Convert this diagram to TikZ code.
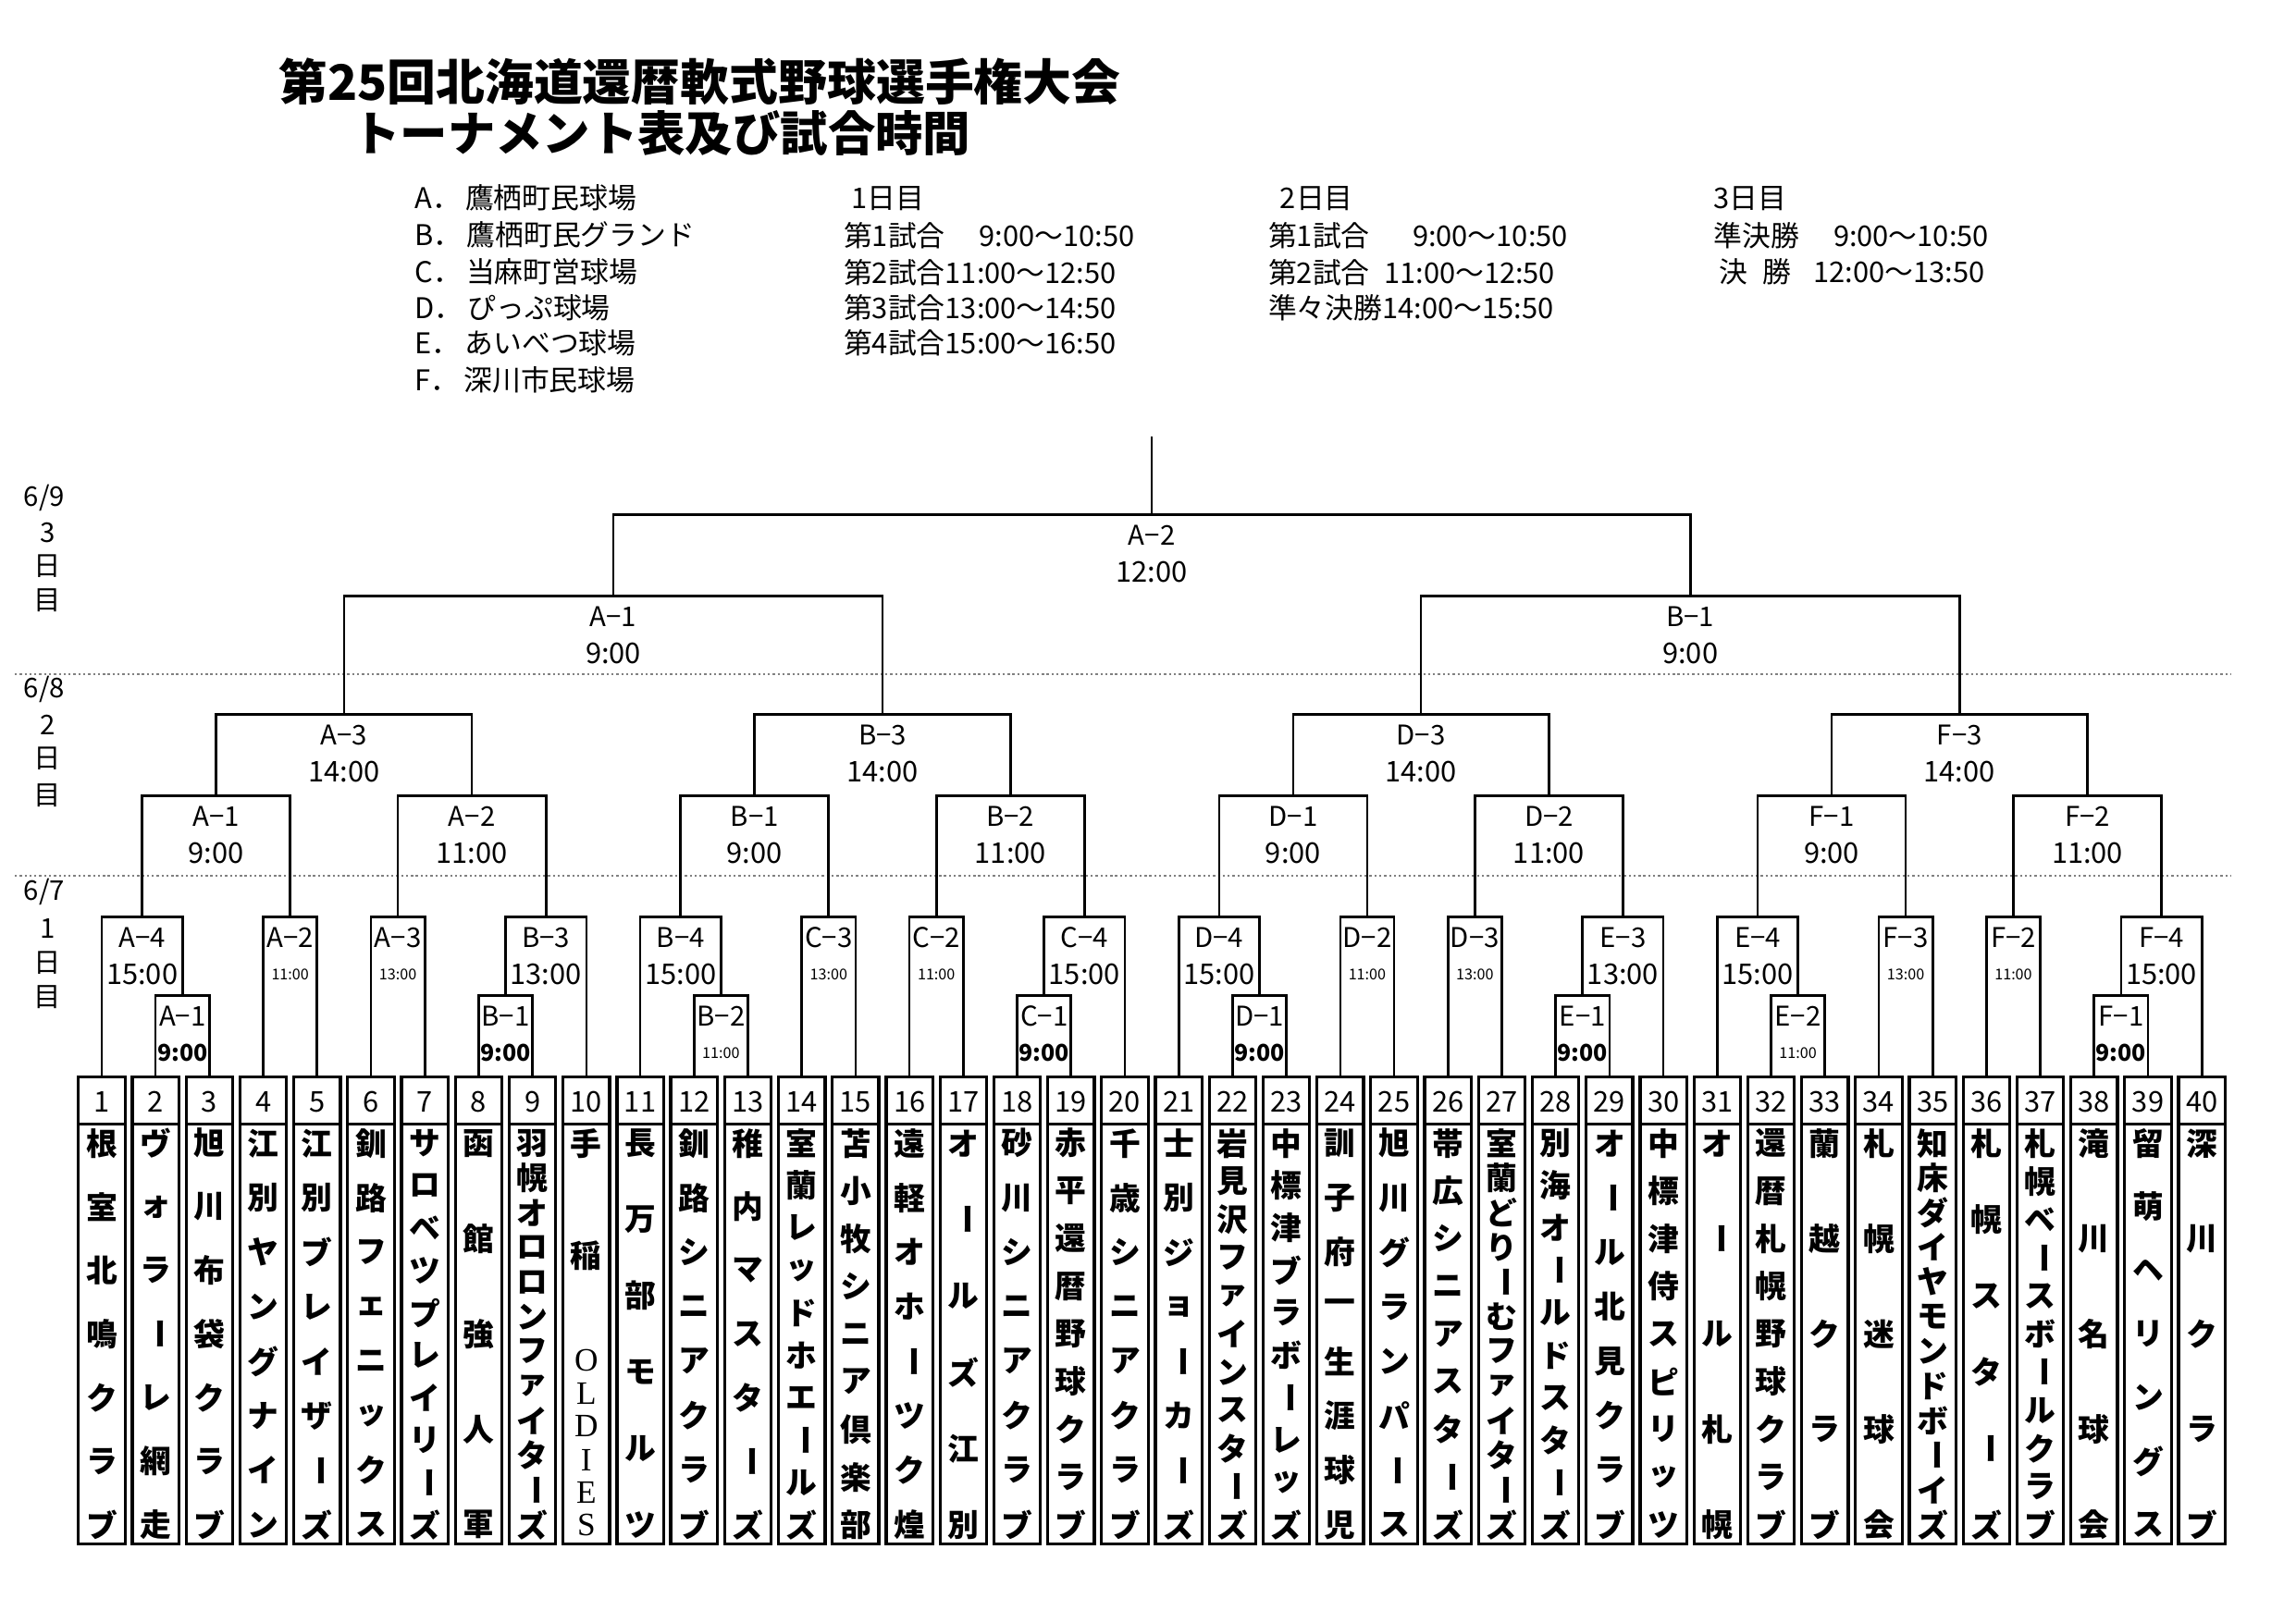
\documentclass[tikz,border=0pt]{standalone}
\usepackage{fontspec}
\setmainfont{Noto Sans CJK JP}
\newfontfamily\serifw{Liberation Serif}
\usetikzlibrary{calc}
\newcommand\chou{\rotatebox[origin=c]{-90}{ー}}
\tikzset{
 br/.style={line width=0.9pt},
 bx/.style={line width=1.1pt},
 lab/.style={font=\fontsize{10}{11}\selectfont, inner sep=0pt},
 tl/.style={font=\fontsize{10.5}{11}\selectfont, inner sep=0pt},
 tb/.style={font=\fontsize{8.5}{9}\selectfont\bfseries, inner sep=0pt},
 ts/.style={font=\fontsize{5.5}{6}\selectfont, inner sep=0pt},
 num/.style={font=\fontsize{10.5}{11}\selectfont, inner sep=0pt},
 nm/.style={font=\fontsize{11.5}{12}\selectfont\bfseries, inner sep=0pt},
 hd/.style={font=\fontsize{10.5}{12}\selectfont, anchor=west, inner sep=0pt},
 dl/.style={font=\fontsize{10}{11}\selectfont, inner sep=0pt},
 sep/.style={gray, densely dotted, line width=0.8pt},
}
\newcommand\mtch[7]{%
 \draw[br] (#2) -- (#2 |- 0,#4) coordinate (#1L) -- (#3 |- 0,#4) coordinate (#1R) -- (#3);
 \coordinate (#1) at ($(#1L)!0.5!(#1R)$);
 \node[lab] at ($(#1)+(0,14)$) {#5};
 \node[#7] at ($(#1)+(0,39)$) {#6};}
\newcommand\team[3]{%
 \pgfmathsetmacro\cxx{68.75+(#1-1)*36.4}
 \draw[bx] (\cxx-15.75,728) rectangle (\cxx+15.75,1044);
 \draw[bx] (\cxx-15.75,760) -- (\cxx+15.75,760);
 \node[num] at (\cxx,745) {#1};
 \coordinate (t#1) at (\cxx,728);
 \foreach \ch [count=\k] in {#3} {\pgfmathsetmacro\yy{773+(\k-1)*258/(#2-1)} \node[nm] at (\cxx,\yy) {\ch};}
}
\begin{document}
\begin{tikzpicture}[x=0.19137mm,y=-0.19137mm]
\useasboundingbox (0,0) rectangle (1552,1097);
% header
\node[font=\fontsize{18}{20}\selectfont\bfseries, anchor=west, inner sep=0pt] (title1) at (188,55) {第25回北海道還暦軟式野球選手権大会};
\node[font=\fontsize{17.5}{20}\selectfont\bfseries, anchor=west, inner sep=0pt] (title2) at (238,90) {トーナメント表及び試合時間};
\node[hd] (v1) at (280,134) {A．\,鷹栖町民球場};
\node[hd] (v2) at (280,159) {B．\,鷹栖町民グランド};
\node[hd] (v3) at (280,184) {C．\,当麻町営球場};
\node[hd] (v4) at (280,208) {D．\,ぴっぷ球場};
\node[hd] (v5) at (280,232) {E．\,あいべつ球場};
\node[hd] (v6) at (280,257) {F．\,深川市民球場};
\node[hd] (d1) at (575,134) {1日目};
\node[hd] (d1a) at (570,159) {第1試合\hspace{1.2em}9:00～10:50};
\node[hd] (d1b) at (570,184) {第2試合11:00～12:50};
\node[hd] (d1c) at (570,208) {第3試合13:00～14:50};
\node[hd] (d1d) at (570,232) {第4試合15:00～16:50};
\node[hd] (d2) at (865,134) {2日目};
\node[hd] (d2a) at (857,159) {第1試合\hspace{1.5em}9:00～10:50};
\node[hd] (d2b) at (857,184) {第2試合\hspace{0.5em}11:00～12:50};
\node[hd] (d2c) at (857,208) {準々決勝14:00～15:50};
\node[hd] (d3) at (1158,134) {3日目};
\node[hd] (d3a) at (1158,159) {準決勝\hspace{1.2em}9:00～10:50};
\node[hd] (d3b) at (1162,184) {決\hspace{0.5em}勝\hspace{0.8em}12:00～13:50};
% day labels
\node[dl] (day3) at (30,337) {6/9};
\node[dl] at (32,360) {3};
\node[dl] at (32,383) {日};
\node[dl] at (32,406) {目};
\node[dl] (day2) at (30,466) {6/8};
\node[dl] at (32,490) {2};
\node[dl] at (32,513) {日};
\node[dl] at (32,538) {目};
\node[dl] (day1) at (30,603) {6/7};
\node[dl] at (32,628) {1};
\node[dl] at (32,651) {日};
\node[dl] at (32,674) {目};
\draw[sep] (10,456) -- (1508,456);
\draw[sep] (10,592) -- (1508,592);
% teams
\team{1}{7}{根,室,北,鳴,ク,ラ,ブ}
\team{2}{7}{ヴ,ォ,ラ,\chou,レ,網,走}
\team{3}{7}{旭,川,布,袋,ク,ラ,ブ}
\team{4}{8}{江,別,ヤ,ン,グ,ナ,イ,ン}
\team{5}{8}{江,別,ブ,レ,イ,ザ,\chou,ズ}
\team{6}{8}{釧,路,フ,ェ,ニ,ッ,ク,ス}
\team{7}{10}{サ,ロ,ベ,ツ,プ,レ,イ,リ,\chou,ズ}
\team{8}{5}{函,館,強,人,軍}
\team{9}{12}{羽,幌,オ,ロ,ロ,ン,フ,ァ,イ,タ,\chou,ズ}
\team{10}{2}{手}
\node[nm] at (396.35,849) {稲};
\foreach \ch/\yy in {O/920,L/942,D/964,I/987,E/1009,S/1031}
  \node[font=\fontsize{12}{12}\selectfont\serifw, inner sep=0pt] at (396.35,\yy) {\ch};
\team{11}{6}{長,万,部,モ,ル,ツ}
\team{12}{8}{釧,路,シ,ニ,ア,ク,ラ,ブ}
\team{13}{7}{稚,内,マ,ス,タ,\chou,ズ}
\team{14}{10}{室,蘭,レ,ッ,ド,ホ,エ,\chou,ル,ズ}
\team{15}{9}{苫,小,牧,シ,ニ,ア,倶,楽,部}
\team{16}{8}{遠,軽,オ,ホ,\chou,ツ,ク,煌}
\team{17}{6}{オ,\chou,ル,ズ,江,別}
\team{18}{8}{砂,川,シ,ニ,ア,ク,ラ,ブ}
\team{19}{9}{赤,平,還,暦,野,球,ク,ラ,ブ}
\team{20}{8}{千,歳,シ,ニ,ア,ク,ラ,ブ}
\team{21}{8}{士,別,ジ,ョ,\chou,カ,\chou,ズ}
\team{22}{11}{岩,見,沢,フ,ァ,イ,ン,ス,タ,\chou,ズ}
\team{23}{10}{中,標,津,ブ,ラ,ボ,\chou,レ,ッ,ズ}
\team{24}{8}{訓,子,府,一,生,涯,球,児}
\team{25}{8}{旭,川,グ,ラ,ン,パ,\chou,ス}
\team{26}{9}{帯,広,シ,ニ,ア,ス,タ,\chou,ズ}
\team{27}{12}{室,蘭,ど,り,\chou,む,フ,ァ,イ,タ,\chou,ズ}
\team{28}{10}{別,海,オ,\chou,ル,ド,ス,タ,\chou,ズ}
\team{29}{8}{オ,\chou,ル,北,見,ク,ラ,ブ}
\team{30}{9}{中,標,津,侍,ス,ピ,リ,ッ,ツ}
\team{31}{5}{オ,\chou,ル,札,幌}
\team{32}{9}{還,暦,札,幌,野,球,ク,ラ,ブ}
\team{33}{5}{蘭,越,ク,ラ,ブ}
\team{34}{5}{札,幌,迷,球,会}
\team{35}{12}{知,床,ダ,イ,ヤ,モ,ン,ド,ボ,\chou,イ,ズ}
\team{36}{6}{札,幌,ス,タ,\chou,ズ}
\team{37}{11}{札,幌,ベ,\chou,ス,ボ,\chou,ル,ク,ラ,ブ}
\team{38}{5}{滝,川,名,球,会}
\team{39}{7}{留,萌,ヘ,リ,ン,グ,ス}
\team{40}{5}{深,川,ク,ラ,ブ}
% round 1
\mtch{r1a1}{t2}{t3}{673}{A−1}{9:00}{tb}
\mtch{r1a4}{t1}{r1a1}{620}{A−4}{15:00}{tl}
\mtch{r1a2}{t4}{t5}{620}{A−2}{11:00}{ts}
\mtch{r1a3}{t6}{t7}{620}{A−3}{13:00}{ts}
\mtch{r1b1}{t8}{t9}{673}{B−1}{9:00}{tb}
\mtch{r1b3}{r1b1}{t10}{620}{B−3}{13:00}{tl}
\mtch{r1b2}{t12}{t13}{673}{B−2}{11:00}{ts}
\mtch{r1b4}{t11}{r1b2}{620}{B−4}{15:00}{tl}
\mtch{r1c3}{t14}{t15}{620}{C−3}{13:00}{ts}
\mtch{r1c2}{t16}{t17}{620}{C−2}{11:00}{ts}
\mtch{r1c1}{t18}{t19}{673}{C−1}{9:00}{tb}
\mtch{r1c4}{r1c1}{t20}{620}{C−4}{15:00}{tl}
\mtch{r1d1}{t22}{t23}{673}{D−1}{9:00}{tb}
\mtch{r1d4}{t21}{r1d1}{620}{D−4}{15:00}{tl}
\mtch{r1d2}{t24}{t25}{620}{D−2}{11:00}{ts}
\mtch{r1d3}{t26}{t27}{620}{D−3}{13:00}{ts}
\mtch{r1e1}{t28}{t29}{673}{E−1}{9:00}{tb}
\mtch{r1e3}{r1e1}{t30}{620}{E−3}{13:00}{tl}
\mtch{r1e2}{t32}{t33}{673}{E−2}{11:00}{ts}
\mtch{r1e4}{t31}{r1e2}{620}{E−4}{15:00}{tl}
\mtch{r1f3}{t34}{t35}{620}{F−3}{13:00}{ts}
\mtch{r1f2}{t36}{t37}{620}{F−2}{11:00}{ts}
\mtch{r1f1}{t38}{t39}{673}{F−1}{9:00}{tb}
\mtch{r1f4}{r1f1}{t40}{620}{F−4}{15:00}{tl}
% round 2
\mtch{r2a1}{r1a4}{r1a2}{538}{A−1}{9:00}{tl}
\mtch{r2a2}{r1a3}{r1b3}{538}{A−2}{11:00}{tl}
\mtch{r2b1}{r1b4}{r1c3}{538}{B−1}{9:00}{tl}
\mtch{r2b2}{r1c2}{r1c4}{538}{B−2}{11:00}{tl}
\mtch{r2d1}{r1d4}{r1d2}{538}{D−1}{9:00}{tl}
\mtch{r2d2}{r1d3}{r1e3}{538}{D−2}{11:00}{tl}
\mtch{r2f1}{r1e4}{r1f3}{538}{F−1}{9:00}{tl}
\mtch{r2f2}{r1f2}{r1f4}{538}{F−2}{11:00}{tl}
% round 3
\mtch{r3a3}{r2a1}{r2a2}{483}{A−3}{14:00}{tl}
\mtch{r3b3}{r2b1}{r2b2}{483}{B−3}{14:00}{tl}
\mtch{r3d3}{r2d1}{r2d2}{483}{D−3}{14:00}{tl}
\mtch{r3f3}{r2f1}{r2f2}{483}{F−3}{14:00}{tl}
% round 4, 5
\mtch{r4a1}{r3a3}{r3b3}{403}{A−1}{9:00}{tl}
\mtch{r4b1}{r3d3}{r3f3}{403}{B−1}{9:00}{tl}
\mtch{r5}{r4a1}{r4b1}{348}{A−2}{12:00}{tl}
\coordinate (champ) at ($(r5)+(0,-53)$);
\draw[br] (r5) -- (champ);
\end{tikzpicture}
\end{document}
